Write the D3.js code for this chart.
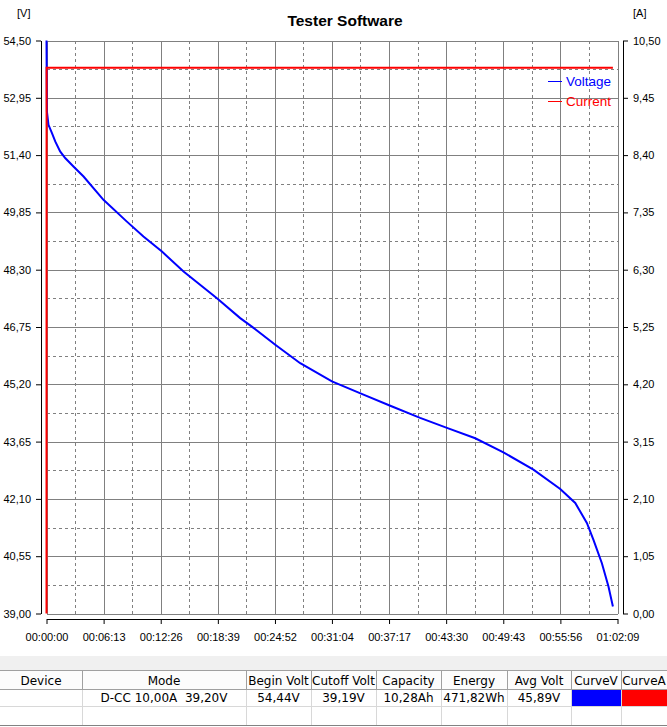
<!DOCTYPE html>
<html>
<head>
<meta charset="utf-8">
<script src="https://cdn.jsdelivr.net/npm/d3@7"></script>
<style>
html,body{margin:0;padding:0;background:#fff;}
svg{display:block;}
</style>
</head>
<body>
<svg id="chart" width="667" height="727"></svg>
<script>
// ---------------- DATA ----------------
const title = "Tester Software";
const xTickLabels = ["00:00:00","00:06:13","00:12:26","00:18:39","00:24:52","00:31:04","00:37:17","00:43:30","00:49:43","00:55:56","01:02:09"];
const vTickValues = [39.00,40.55,42.10,43.65,45.20,46.75,48.30,49.85,51.40,52.95,54.50];
const aTickValues = [0.00,1.05,2.10,3.15,4.20,5.25,6.30,7.35,8.40,9.45,10.50];

// time in seconds
const voltageTimes  = [0, 2.6, 13, 35, 57, 89, 122, 176, 242, 372, 525, 633, 754, 895, 1113, 1265, 1341, 1494, 1657, 1864, 2070, 2245, 2440, 2615, 2800, 2984, 3180, 3355, 3453, 3529, 3572, 3627, 3670, 3699];
const voltageValues = [54.50, 52.58, 52.22, 52.00, 51.77, 51.50, 51.32, 51.09, 50.82, 50.19, 49.60, 49.20, 48.79, 48.25, 47.53, 46.99, 46.76, 46.27, 45.77, 45.28, 44.92, 44.62, 44.29, 44.02, 43.74, 43.36, 42.89, 42.37, 41.99, 41.45, 40.99, 40.36, 39.73, 39.19];

const currentTimes  = [0, 0.5, 3699];
const currentValues = [0.00, 10.00, 10.00];

const seriesNames = ["Voltage", "Current"];
const seriesColors = ["#0000ff", "#ff0000"];

const tableHeaders = ["Device","Mode","Begin Volt","Cutoff Volt","Capacity","Energy","Avg Volt","CurveV","CurveA"];
const tableRow = ["", "D-CC 10,00A  39,20V", "54,44V", "39,19V", "10,28Ah", "471,82Wh", "45,89V", "", ""];

// ---------------- HELPERS ----------------
function parseTime(s){ const p = s.split(":").map(Number); return p[0]*3600+p[1]*60+p[2]; }
const xTickValues = xTickLabels.map(parseTime);
const fmt2 = d => d3.format(".2f")(d).replace(".", ",");

const svg = d3.select("#chart");
const FONT = "'Liberation Sans', Arial, sans-serif";

const L = 46.5, R = 617.5, T = 40.5, B = 613.5;
const x = d3.scaleLinear().domain([0, xTickValues[xTickValues.length-1]]).range([L, R]);
const yV = d3.scaleLinear().domain([vTickValues[0], vTickValues[vTickValues.length-1]]).range([B, T]);
const yA = d3.scaleLinear().domain([aTickValues[0], aTickValues[aTickValues.length-1]]).range([B, T]);

// ---------------- GRID ----------------
const grid = svg.append("g").attr("shape-rendering","crispEdges");
const mids = arr => arr.slice(0,-1).map((v,i)=> (v+arr[i+1])/2);
grid.selectAll("line.vx").data(mids(xTickValues)).join("line")
  .attr("x1", d=>Math.round(x(d))+0.5).attr("x2", d=>Math.round(x(d))+0.5)
  .attr("y1", T).attr("y2", B)
  .attr("stroke", "#808080").attr("stroke-dasharray", "3,3");
grid.selectAll("line.hy").data(mids(vTickValues)).join("line")
  .attr("y1", d=>Math.round(yV(d))+0.5).attr("y2", d=>Math.round(yV(d))+0.5)
  .attr("x1", L).attr("x2", R)
  .attr("stroke", "#808080").attr("stroke-dasharray", "3,3");
grid.selectAll("line.mx").data(xTickValues).join("line")
  .attr("x1", d=>Math.round(x(d))+0.5).attr("x2", d=>Math.round(x(d))+0.5)
  .attr("y1", T).attr("y2", B)
  .attr("stroke", "#808080");
grid.selectAll("line.my").data(vTickValues).join("line")
  .attr("y1", d=>Math.round(yV(d))+0.5).attr("y2", d=>Math.round(yV(d))+0.5)
  .attr("x1", L).attr("x2", R)
  .attr("stroke", "#808080");

// ---------------- AXES ----------------
function styleAxis(g){
  g.selectAll("path").attr("stroke","#000");
  g.selectAll("line").attr("stroke","#000");
  g.selectAll("text").attr("font-family", FONT).attr("font-size", "11px").attr("fill","#000");
}
const axL = d3.axisLeft(yV).tickValues(vTickValues).tickFormat(fmt2).tickSizeInner(5).tickSizeOuter(0).tickPadding(5);
svg.append("g").attr("transform", "translate(41,0)").call(axL).call(styleAxis);

const axR = d3.axisRight(yA).tickValues(aTickValues).tickFormat(fmt2).tickSizeInner(5).tickSizeOuter(0).tickPadding(5);
svg.append("g").attr("transform", "translate(623,0)").call(axR).call(styleAxis);

const axB = d3.axisBottom(x).tickValues(xTickValues).tickFormat((d,i)=>xTickLabels[i]).tickSizeInner(5).tickSizeOuter(0).tickPadding(9);
svg.append("g").attr("transform", "translate(0,619)").call(axB).call(styleAxis);

// axis unit labels
svg.append("text").attr("x", 17).attr("y", 17).text("[V]")
  .attr("font-family", FONT).attr("font-size","11px");
svg.append("text").attr("x", 633).attr("y", 17).text("[A]")
  .attr("font-family", FONT).attr("font-size","11px");

// title
svg.append("text").attr("x", 345).attr("y", 26).attr("text-anchor","middle")
  .attr("font-family", FONT).attr("font-weight","bold").attr("font-size","15.5px")
  .text(title);

// ---------------- SERIES ----------------
const vData = voltageTimes.map((t,i)=>({t, v: voltageValues[i]}));
const aData = currentTimes.map((t,i)=>({t, v: currentValues[i]}));

svg.append("path").datum(vData)
  .attr("fill","none").attr("stroke", seriesColors[0]).attr("stroke-width", 2)
  .attr("d", d3.line().x(d=>x(d.t)).y(d=>yV(d.v)));

svg.append("path").datum(aData)
  .attr("fill","none").attr("stroke", seriesColors[1]).attr("stroke-width", 2)
  .attr("d", d3.line().x(d=>x(d.t)).y(d=>yA(d.v)));

// ---------------- LEGEND ----------------
const leg = svg.append("g");
seriesNames.forEach((name,i)=>{
  const yy = 81.5 + i*20;
  leg.append("line").attr("x1", 548).attr("x2", 562).attr("y1", yy).attr("y2", yy)
    .attr("shape-rendering","crispEdges")
    .attr("stroke", seriesColors[i]).attr("stroke-width", 1);
  leg.append("text").attr("x", 566).attr("y", yy).attr("dy","0.35em")
    .attr("font-family", FONT).attr("font-size","13.5px").attr("fill", seriesColors[i]).text(name);
});

// ---------------- TABLE ----------------
const colEdges = [0, 82, 246, 311, 376, 441, 507, 571, 621, 667];
const tbl = svg.append("g");
const TFONT = "'DejaVu Sans', Tahoma, sans-serif";
tbl.append("rect").attr("x",0).attr("y",656).attr("width",667).attr("height",14).attr("fill","#f0f0f0");
tbl.append("rect").attr("x",0).attr("y",670).attr("width",667).attr("height",19).attr("fill","#fcfcfc");
tbl.append("rect").attr("x",colEdges[7]+1).attr("y",690).attr("width",colEdges[8]-colEdges[7]-1).attr("height",16).attr("fill", seriesColors[0]);
tbl.append("rect").attr("x",colEdges[8]+1).attr("y",690).attr("width",colEdges[9]-colEdges[8]).attr("height",16).attr("fill", seriesColors[1]);
[[670.5,"#a0a0a0"],[689.5,"#a0a0a0"],[706.5,"#d8d8d8"],[725.5,"#828282"]].forEach(([yy,c])=>{
  tbl.append("line").attr("x1",0).attr("x2",667).attr("y1",yy).attr("y2",yy).attr("stroke",c);
});
colEdges.slice(1,-1).forEach(cx=>{
  tbl.append("line").attr("x1",cx+0.5).attr("x2",cx+0.5).attr("y1",671).attr("y2",689).attr("stroke","#a0a0a0");
  tbl.append("line").attr("x1",cx+0.5).attr("x2",cx+0.5).attr("y1",690).attr("y2",725).attr("stroke","#d8d8d8");
});
tableHeaders.forEach((h,i)=>{
  const cx = (colEdges[i]+colEdges[i+1])/2;
  tbl.append("text").attr("x",cx).attr("y",684.5).attr("text-anchor","middle")
    .attr("font-family",TFONT).attr("font-size","12px").attr("fill","#000").text(h);
  if (tableRow[i]) {
    tbl.append("text").attr("x",cx).attr("y",702).attr("text-anchor","middle")
      .style("white-space","pre")
      .attr("font-family",TFONT).attr("font-size","12px").attr("fill","#000").text(tableRow[i]);
  }
});
</script>
</body>
</html>
